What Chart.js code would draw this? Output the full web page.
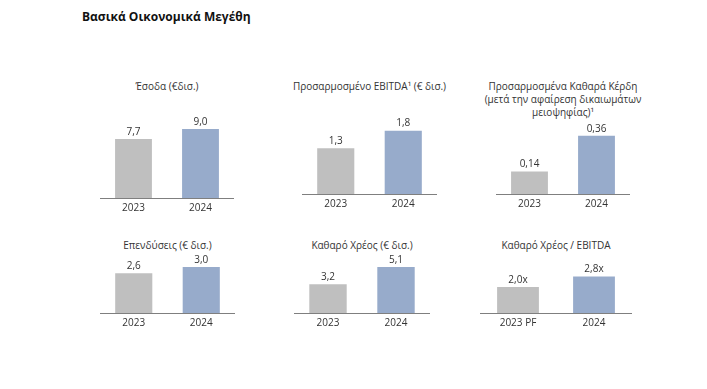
<!DOCTYPE html>
<html>
<head>
<meta charset="utf-8">
<script src="https://cdn.jsdelivr.net/npm/chart.js@4.4.1/dist/chart.umd.min.js"></script>
<style>
  body { margin: 0; background: #fff; width: 707px; height: 389px; position: relative; overflow: hidden; font-family: "Open Sans", "Noto Sans", sans-serif; }
  #mainTitle { position: absolute; left: 82px; top: 8px; font-size: 12px; font-weight: bold; color: #111; line-height: 18px; }
  .ttl { position: absolute; width: 200px; text-align: center; font-size: 10px; line-height: 13px; color: #333; }
  .box { position: absolute; }
</style>
</head>
<body>
<div id="mainTitle">Βασικά Οικονομικά Μεγέθη</div>
<div id="wrap"></div>
<script>
// data
const years = ['2023', '2024'];
const yearsPf = ['2023 PF', '2024'];
const revenue = [7.7, 9.0];
const ebitda = [1.3, 1.8];
const netProfit = [0.14, 0.36];
const capex = [2.6, 3.0];
const netDebt = [3.2, 5.1];
const leverage = [2.0, 2.8];

const grey = '#BFBFBF';
const blue = '#97ABCB';

// left/right = axis line ends, base = baseline y
var charts = [
  { title: ['Έσοδα (€δισ.)'], labels: years, values: revenue, dec: 1, suffix: '', left: 100, right: 234, base: 198, max: 11.73, titleTop: 80 },
  { title: ['Προσαρμοσμένο EBITDA¹ (€ δισ.)'], labels: years, values: ebitda, dec: 1, suffix: '', left: 302, right: 437, base: 194, max: 2.557, titleTop: 80 },
  { title: ['Προσαρμοσμένα Καθαρά Κέρδη', '(μετά την αφαίρεση δικαιωμάτων', 'μειοψηφίας)¹'], labels: years, values: netProfit, dec: 2, suffix: '', left: 496, right: 630, base: 194, max: 0.557, titleTop: 79.5 },
  { title: ['Επενδύσεις (€ δισ.)'], labels: years, values: capex, dec: 1, suffix: '', left: 100, right: 235, base: 313, max: 5.88, titleTop: 238.5 },
  { title: ['Καθαρό Χρέος (€ δισ.)'], labels: years, values: netDebt, dec: 1, suffix: '', left: 294, right: 430, base: 313, max: 10.0, titleTop: 238.5 },
  { title: ['Καθαρό Χρέος / EBITDA'], labels: yearsPf, values: leverage, dec: 1, suffix: 'x', left: 480, right: 632, base: 313, max: 6.92, titleTop: 238.5 }
];

const valueLabels = {
  id: 'valueLabels',
  afterDatasetsDraw(chart, args, opts) {
    const c = chart.ctx;
    const meta = chart.getDatasetMeta(0);
    const ds = chart.data.datasets[0];
    c.save();
    c.font = '10px "Open Sans", "Noto Sans", sans-serif';
    c.fillStyle = '#333';
    c.textAlign = 'center';
    c.textBaseline = 'middle';
    meta.data.forEach(function(bar, i) {
      var txt = ds.data[i].toFixed(opts.dec).replace('.', ',') + opts.suffix;
      c.fillText(txt, bar.x, bar.y - 7);
    });
    c.restore();
  }
};

var wrap = document.getElementById('wrap');

charts.forEach(function(cfg) {
  var w = cfg.right - cfg.left;
  var t = document.createElement('div');
  t.className = 'ttl';
  t.style.left = ((cfg.left + cfg.right) / 2 - 100) + 'px';
  t.style.top = cfg.titleTop + 'px';
  t.innerHTML = cfg.title.join('<br>');
  wrap.appendChild(t);

  var box = document.createElement('div');
  box.className = 'box';
  box.style.left = cfg.left + 'px';
  box.style.top = (cfg.base - 100) + 'px';
  box.style.width = w + 'px';
  box.style.height = '120px';
  var cv = document.createElement('canvas');
  box.appendChild(cv);
  wrap.appendChild(box);

  new Chart(cv, {
    type: 'bar',
    data: {
      labels: cfg.labels,
      datasets: [{
        data: cfg.values,
        backgroundColor: [grey, blue],
        barPercentage: 0.55,
        categoryPercentage: 1
      }]
    },
    options: {
      responsive: true,
      maintainAspectRatio: false,
      animation: false,
      layout: { padding: { top: 10, left: 0, right: 0, bottom: 0 } },
      plugins: {
        legend: { display: false },
        tooltip: { enabled: false },
        valueLabels: { dec: cfg.dec, suffix: cfg.suffix }
      },
      scales: {
        x: {
          grid: { color: 'transparent', drawTicks: false },
          border: { display: true, color: '#7F7F7F', width: 1 },
          ticks: { color: '#333', padding: 4, font: { family: '"Open Sans", "Noto Sans", sans-serif', size: 10 } }
        },
        y: { display: false, min: 0, max: cfg.max }
      }
    },
    plugins: [valueLabels]
  });
});
</script>
</body>
</html>
